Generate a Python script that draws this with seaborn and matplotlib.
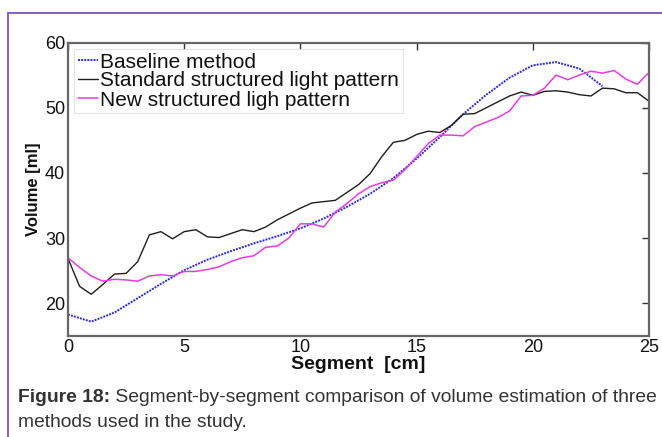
import matplotlib
matplotlib.use("Agg")
import matplotlib.pyplot as plt
from matplotlib.lines import Line2D
import seaborn as sns

# Segment positions [cm]
seg_base = list(range(0, 24))
seg_fine = [i * 0.5 for i in range(51)]

# Volume estimates [ml]
baseline = [18.3, 17.2, 18.6, 20.8, 23.0, 25.1, 26.7, 28.0, 29.2, 30.3,
            31.5, 33.0, 34.8, 36.8, 39.2, 42.2, 45.5, 49.0, 52.0, 54.6,
            56.5, 57.0, 56.0, 53.3]
standard = [26.9, 22.6, 21.4, 22.9, 24.5, 24.6, 26.4, 30.5, 31.0, 29.9,
            31.0, 31.3, 30.2, 30.1, 30.7, 31.3, 31.0, 31.7, 32.8, 33.7,
            34.6, 35.4, 35.6, 35.8, 37.0, 38.2, 39.9, 42.5, 44.7, 45.0,
            45.9, 46.4, 46.2, 47.3, 49.0, 49.1, 50.0, 50.9, 51.8, 52.4,
            51.9, 52.5, 52.6, 52.4, 52.0, 51.8, 53.0, 52.9, 52.3, 52.3,
            51.0]
new_pattern = [27.0, 25.5, 24.2, 23.4, 23.7, 23.6, 23.4, 24.2, 24.4, 24.2,
               24.9, 24.9, 25.2, 25.6, 26.4, 27.0, 27.3, 28.6, 28.8, 30.0,
               32.2, 32.2, 31.7, 34.0, 35.3, 36.8, 37.9, 38.5, 38.9, 40.5,
               42.5, 44.5, 45.8, 45.8, 45.7, 47.1, 47.8, 48.5, 49.5, 51.8,
               51.9, 53.0, 55.0, 54.3, 55.0, 55.6, 55.3, 55.7, 54.4, 53.6,
               55.4]

labels = ["Baseline method", "Standard structured light pattern",
          "New structured ligh pattern"]
x_ticks = [0, 5, 10, 15, 20, 25]
y_ticks = [20, 30, 40, 50, 60]

sns.set_theme(style="white")
plt.rcParams["font.family"] = ["Liberation Sans", "DejaVu Sans"]

fig = plt.figure(figsize=(6.62, 4.37), dpi=100)
ax = fig.add_axes([68 / 662, 1 - 336 / 437, 581 / 662, 293.5 / 437])

sns.lineplot(x=seg_base, y=baseline, ax=ax, color="#2a2ae0", lw=1.4,
             linestyle=(0, (1, 0.6)), label=labels[0])
sns.lineplot(x=seg_fine, y=standard, ax=ax, color="#1e1e1e", lw=1.0,
             label=labels[1])
sns.lineplot(x=seg_fine, y=new_pattern, ax=ax, color="#e23ee0", lw=1.1,
             label=labels[2])

ax.set_xlim(0, 25)
ax.set_ylim(15, 60)
ax.set_xticks(x_ticks)
ax.set_yticks(y_ticks)
ax.tick_params(direction="in", length=5, width=1.0, color="#333333",
               labelsize=13, labelcolor="#111111", top=True, right=True)
ax.tick_params(axis="x", pad=2)
ax.tick_params(axis="y", pad=2)
for s in ax.spines.values():
    s.set_color("#666666")
    s.set_linewidth(1.6)

ax.set_xlabel("Segment  [cm]", fontsize=14, fontweight="bold",
              color="#111111", labelpad=0)
ax.set_ylabel("Volume [ml]", fontsize=12, fontweight="bold",
              color="#111111", labelpad=3)

leg = ax.legend(loc="upper left", fontsize=15, handlelength=0.95,
                handletextpad=0.12, borderpad=0.18, labelspacing=0.0,
                borderaxespad=0.3, fancybox=False, frameon=True)
leg.get_frame().set_edgecolor("#dddddd")
leg.get_frame().set_linewidth(0.8)
for t in leg.get_texts():
    t.set_color("#111111")

# Caption under the chart
cap_size = 13.85
bold = fig.text(18 / 662, 1 - 402 / 437, "Figure 18:", fontsize=cap_size,
                fontweight="bold", color="#333333", va="baseline")
ax.annotate(" Segment-by-segment comparison of volume estimation of three",
            xy=(1, 0), xycoords=bold, va="bottom", ha="left",
            fontsize=cap_size, color="#333333", annotation_clip=False)
fig.text(18 / 662, 1 - 427 / 437, "methods used in the study.",
         fontsize=cap_size, color="#333333", va="baseline")

# Page frame lines
frame_color = "#7a55c6"
fig.add_artist(Line2D([8 / 662, 1.0], [1 - 12.5 / 437, 1 - 12.5 / 437],
                      transform=fig.transFigure, color=frame_color, lw=1.3))
fig.add_artist(Line2D([8 / 662, 8 / 662], [0, 1 - 12.5 / 437],
                      transform=fig.transFigure, color=frame_color, lw=1.3))

fig.savefig("out.png", dpi=100)
